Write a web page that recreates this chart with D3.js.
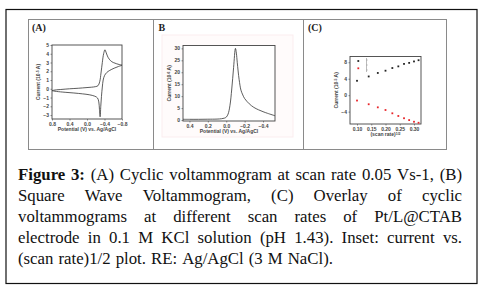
<!DOCTYPE html>
<html>
<head>
<meta charset="utf-8">
<script src="https://cdn.jsdelivr.net/npm/d3@7"></script>
<style>
  body { margin: 0; background: #fff; }
  svg { display: block; }
</style>
</head>
<body>
<svg id="fig" width="486" height="290"></svg>
<script>
// Panel A: cyclic voltammogram (closed loop, forward then reverse)
const cvPotential = [0.80, 0.70, 0.60, 0.50, 0.40, 0.30, 0.20, 0.10, 0.00, -0.10, -0.20, -0.25, -0.29, -0.32, -0.35, -0.38, -0.41, -0.44, -0.48, -0.54, -0.60, -0.68, -0.75, -0.80,
  -0.72, -0.62, -0.52, -0.45, -0.40, -0.37, -0.35, -0.33, -0.315, -0.30, -0.285, -0.27, -0.24, -0.18, -0.05, 0.10, 0.30, 0.50, 0.70, 0.80];
const cvCurrent = [-0.20, -0.12, -0.08, -0.04, 0.00, 0.03, 0.06, 0.10, 0.14, 0.18, 0.25, 0.35, 0.8, 1.8, 3.0, 4.0, 4.45, 4.1, 3.6, 3.2, 3.0, 2.85, 2.75, 2.70,
  2.55, 2.35, 2.10, 1.85, 1.5, 1.0, 0.2, -0.9, -2.0, -3.2, -2.4, -1.5, -1.05, -0.85, -0.68, -0.58, -0.48, -0.40, -0.30, -0.22];
const cvXTicks = [0.8, 0.4, 0.0, -0.4, -0.8];
const cvYTicks = [5, 4, 3, 2, 1, 0, -1, -2, -3];

// Panel B: square wave voltammogram
const swvPotential = [0.47, 0.40, 0.30, 0.20, 0.10, 0.05, 0.02, 0.00, -0.02, -0.04, -0.06, -0.08, -0.10, -0.11, -0.12, -0.14, -0.16, -0.18, -0.20, -0.25, -0.30, -0.35, -0.40, -0.45, -0.53];
const swvCurrent = [0.3, 0.3, 0.3, 0.35, 0.4, 0.55, 0.8, 1.2, 2.5, 6, 13, 22, 30, 28, 24, 17, 12.5, 10.5, 9, 6.8, 5.3, 4.3, 3.5, 2.8, 1.8];
const swvXTicks = [0.4, 0.2, 0.0, -0.2, -0.4];
const swvYTicks = [0, 5, 10, 15, 20, 25, 30];

// Panel C: peak current vs (scan rate)^1/2
const sqrtRate = [0.100, 0.141, 0.173, 0.200, 0.224, 0.245, 0.265, 0.283, 0.300, 0.316];
const anodicPeak = [3.5, 4.55, 5.4, 5.95, 6.6, 7.0, 7.6, 7.85, 8.2, 8.5];
const cathodicPeak = [-1.3, -2.2, -2.95, -3.6, -4.4, -5.05, -5.6, -6.05, -6.45, -6.7];
const rateXTicks = [0.10, 0.15, 0.20, 0.25, 0.30];
const rateYTicks = [8, 4, 0, -4];

const captionLines = [
  [["Figure", true], ["3:", true], ["(A)"], ["Cyclic"], ["voltammogram"], ["at"], ["scan"], ["rate"], ["0.05"], ["Vs-1,"], ["(B)"]],
  [["Square"], ["Wave"], ["Voltammogram,"], ["(C)"], ["Overlay"], ["of"], ["cyclic"]],
  [["voltammograms"], ["at"], ["different"], ["scan"], ["rates"], ["of"], ["Pt/L@CTAB"]],
  [["electrode"], ["in"], ["0.1"], ["M"], ["KCl"], ["solution"], ["(pH"], ["1.43)."], ["Inset:"], ["current"], ["vs."]],
  [["(scan"], ["rate)1/2"], ["plot."], ["RE:"], ["Ag/AgCl"], ["(3"], ["M"], ["NaCl)."]]
];

const svg = d3.select('#fig');
const axisFont = '"Liberation Sans", Arial, sans-serif';

// outer frame and panel box
svg.append('rect').attr('x', 6).attr('y', 9.5).attr('width', 471).attr('height', 274)
  .attr('fill', 'none').attr('stroke', '#111').attr('stroke-width', 1.2);
svg.append('rect').attr('x', 28.5).attr('y', 19.5).attr('width', 418).attr('height', 130)
  .attr('fill', 'none').attr('stroke', '#8a8a8a').attr('stroke-width', 1);
[153.5, 303.5].forEach(x => {
  svg.append('line').attr('x1', x).attr('x2', x).attr('y1', 19.5).attr('y2', 149.5)
    .attr('stroke', '#8a8a8a').attr('stroke-width', 1);
});

// faint pink backdrop behind panel B image
svg.append('rect').attr('x', 162).attr('y', 35).attr('width', 131).attr('height', 102)
  .attr('fill', '#fffbfb').attr('stroke', '#fbedef').attr('stroke-width', 1);

// panel letters
[['(A)', 32], ['B', 158.5], ['(C)', 308]].forEach(([t, x]) => {
  svg.append('text').attr('x', x).attr('y', 31).text(t)
    .attr('font-family', '"Liberation Serif", serif').attr('font-weight', 'bold')
    .attr('font-size', 10).attr('fill', '#222');
});

/*
Draw one small plot frame with left/bottom axes
 */
function drawFrame(box, x, y, xTicks, yTicks, xFmt, yFmt, xLabel, yLabel) {
  const g = svg.append('g');
  g.append('rect').attr('x', box.x0).attr('y', box.y0)
    .attr('width', box.x1 - box.x0).attr('height', box.y1 - box.y0)
    .attr('fill', '#fff').attr('stroke', '#444').attr('stroke-width', 0.9);

  const xa = g.append('g').attr('transform', 'translate(0,' + box.y1 + ')')
    .call(d3.axisBottom(x).tickValues(xTicks).tickSize(1.5).tickPadding(1.5).tickFormat(xFmt));
  const ya = g.append('g').attr('transform', 'translate(' + box.x0 + ',0)')
    .call(d3.axisLeft(y).tickValues(yTicks).tickSize(1.5).tickPadding(1.5).tickFormat(yFmt));
  [xa, ya].forEach(a => {
    a.select('.domain').remove();
    a.selectAll('line').attr('stroke', '#444').attr('stroke-width', 0.6);
    a.selectAll('text').attr('font-family', axisFont).attr('font-size', 5)
      .attr('font-weight', 'bold').attr('fill', '#444');
  });

  g.append('text').attr('x', (box.x0 + box.x1) / 2).attr('y', box.y1 + 12)
    .attr('text-anchor', 'middle').attr('font-family', axisFont).attr('font-size', 5)
    .attr('font-weight', 'bold').attr('fill', '#444').text(xLabel);
  const yl = g.append('text')
    .attr('transform', 'translate(' + (box.x0 - 12) + ',' + ((box.y0 + box.y1) / 2) + ') rotate(-90)')
    .attr('text-anchor', 'middle').attr('font-family', axisFont).attr('font-size', 5)
    .attr('font-weight', 'bold').attr('fill', '#444');
  yl.append('tspan').text(yLabel[0]);
  yl.append('tspan').attr('dy', -1.5).attr('font-size', 3.5).text(yLabel[1]);
  yl.append('tspan').attr('dy', 1.5).text(yLabel[2]);
  return g;
}

// ---------- Panel A ----------
const boxA = {x0: 52, x1: 122, y0: 45, y1: 119};
const xA = d3.scaleLinear().domain([0.8, -0.8]).range([boxA.x0, boxA.x1]);
const yA = d3.scaleLinear().domain([-3.45, 5]).range([boxA.y1, boxA.y0]);
const gA = drawFrame(boxA, xA, yA, cvXTicks, cvYTicks, d3.format('.1f'), d3.format('d'),
  'Potential (V) vs. Ag/AgCl', ['Current (10', '-5', ' A)']);
gA.append('path')
  .datum(d3.range(cvPotential.length))
  .attr('d', d3.line().x(i => xA(cvPotential[i])).y(i => yA(cvCurrent[i])).curve(d3.curveCatmullRom))
  .attr('fill', 'none').attr('stroke', '#333').attr('stroke-width', 0.8);

// ---------- Panel B ----------
const boxB = {x0: 183, x1: 275, y0: 45.5, y1: 121};
const xB = d3.scaleLinear().domain([0.47, -0.53]).range([boxB.x0, boxB.x1]);
const yB = d3.scaleLinear().domain([-0.4, 31.2]).range([boxB.y1, boxB.y0]);
const gB = drawFrame(boxB, xB, yB, swvXTicks, swvYTicks, d3.format('.1f'), d3.format('d'),
  'Potential (V) vs. Ag/AgCl', ['Current (10', '-6', ' A)']);
gB.append('path')
  .datum(d3.range(swvPotential.length))
  .attr('d', d3.line().x(i => xB(swvPotential[i])).y(i => yB(swvCurrent[i])).curve(d3.curveCatmullRom))
  .attr('fill', 'none').attr('stroke', '#333').attr('stroke-width', 0.8);

// ---------- Panel C ----------
const boxC = {x0: 350, x1: 421, y0: 56.5, y1: 124};
const xC = d3.scaleLinear().domain([0.0754, 0.3246]).range([boxC.x0, boxC.x1]);
const yC = d3.scaleLinear().domain([-7.0, 9.4]).range([boxC.y1, boxC.y0]);
const gC = drawFrame(boxC, xC, yC, rateXTicks, rateYTicks, d3.format('.2f'), d3.format('d'),
  '(scan rate)', ['Current (10', '-5', ' A)']);
gC.selectAll('text').filter(function () { return d3.select(this).text() === '(scan rate)'; })
  .append('tspan').attr('dy', -1.5).attr('font-size', 3.5).text('1/2');
[[anodicPeak, '#222'], [cathodicPeak, '#e8262a']].forEach(([vals, col]) => {
  gC.selectAll(null).data(d3.range(sqrtRate.length)).join('rect')
    .attr('x', i => xC(sqrtRate[i]) - 0.9).attr('y', i => yC(vals[i]) - 0.9)
    .attr('width', 1.8).attr('height', 1.8).attr('fill', col);
});
// legend markers
[['#222', 61], ['#e8262a', 68.3]].forEach(([col, yy]) => {
  gC.append('rect').attr('x', 357.4).attr('y', yy - 0.9).attr('width', 1.8).attr('height', 1.8).attr('fill', col);
});
gC.append('path').attr('d', 'M366.5,58 V72 M366.5,60 h1.2 M366.5,65 h1.2 M366.5,70 h1.2')
  .attr('fill', 'none').attr('stroke', '#777').attr('stroke-width', 0.5);

// ---------- Caption ----------
const cap = svg.append('g');
const capFont = '"Liberation Serif", "Times New Roman", serif';
const capSize = 16.8;
const capLeft = 18, capRight = 462;
const baselines = [180, 201, 222, 243, 263.5];

captionLines.forEach((words, li) => {
  const nodes = words.map(w => cap.append('text')
    .attr('y', baselines[li])
    .attr('font-family', capFont).attr('font-size', capSize)
    .attr('font-weight', w[1] ? 'bold' : 'normal')
    .attr('fill', '#111').text(w[0]));
  const widths = nodes.map(n => n.node().getComputedTextLength());
  const total = d3.sum(widths);
  const last = li === captionLines.length - 1;
  // justify every line but the last
  const gap = last ? capSize * 0.3 : Math.max(2, (capRight - capLeft - total) / (words.length - 1));
  let x = capLeft;
  nodes.forEach((n, i) => {
    n.attr('x', x);
    x += widths[i] + gap;
  });
});
</script>
</body>
</html>
